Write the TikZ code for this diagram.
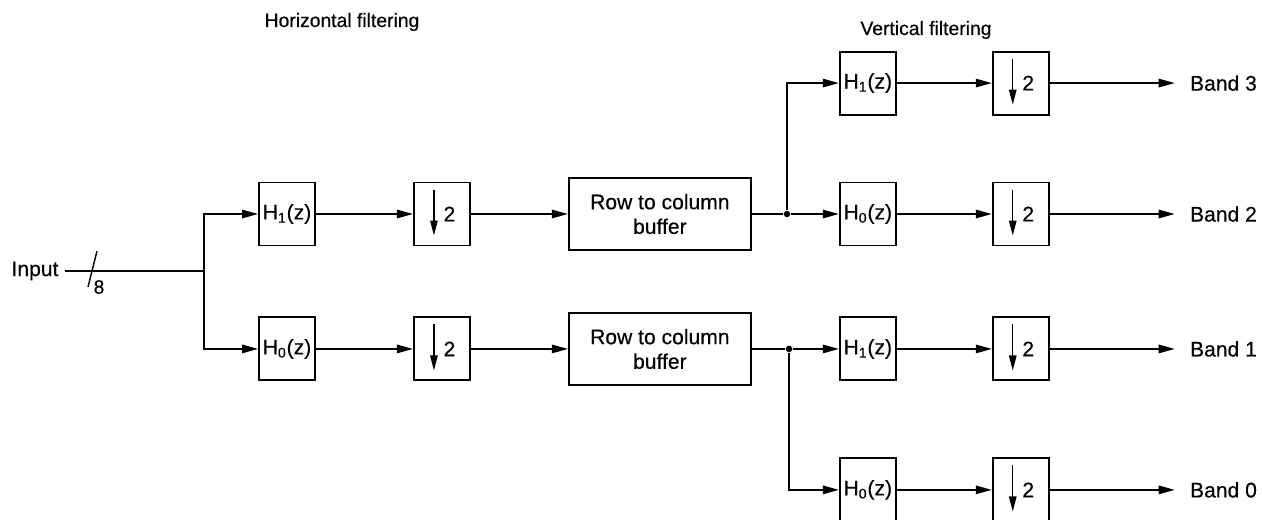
\documentclass[tikz,border=0pt]{standalone}
\usepackage{fontspec}
\setmainfont{Liberation Sans}[BoldFont={Liberation Sans}, BoldFeatures={FakeBold=0.35}]
\usetikzlibrary{arrows.meta, positioning}

\begin{document}
\begin{tikzpicture}[
  font=\fontsize{12}{14}\selectfont\bfseries,
  filt/.style={draw, line width=1.1pt, minimum width=1.12cm, minimum height=1.26cm, inner sep=0pt},
  decim/.style={filt, path picture={
      \draw[thick, -{Triangle[length=0.3cm, width=0.15cm]}]
        ([xshift=-0.16cm, yshift=-0.14cm]path picture bounding box.north) --
        ([xshift=-0.16cm, yshift=0.2cm]path picture bounding box.south);}},
  buffer/.style={draw, line width=1.1pt, align=center, minimum width=3.64cm, minimum height=1.44cm},
  band/.style={inner xsep=0.3cm},
  head/.style={font=\fontsize{11}{13}\selectfont\bfseries},
  arrow/.style={thick, -{Triangle[length=0.32cm, width=0.17cm]}},
  dot/.style={circle, fill, inner sep=0pt, minimum size=0.13cm}
]
\useasboundingbox (0,0) rectangle (25.24,10.38);

% horizontal stage
\node[filt] (hh1) at (5.74,6.10) {H\textsubscript{1}(z)};
\node[filt, below=1.40cm of hh1] (hh0) {H\textsubscript{0}(z)};
\node[decim, right=1.94cm of hh1] (hd1) {\hspace{0.3cm}2};
\node[decim, right=1.94cm of hh0] (hd0) {\hspace{0.3cm}2};
\node[buffer, right=1.94cm of hd1] (buf1) {Row to column\\buffer};
\node[buffer, right=1.94cm of hd0] (buf0) {Row to column\\buffer};

% vertical stage
\node[filt, right=1.74cm of buf1] (vh2) {H\textsubscript{0}(z)};
\node[filt, above=1.32cm of vh2] (vh3) {H\textsubscript{1}(z)};
\node[filt, right=1.74cm of buf0] (vh1) {H\textsubscript{1}(z)};
\node[filt, below=1.52cm of vh1] (vh0) {H\textsubscript{0}(z)};
\foreach \b in {0,1,2,3} {
  \node[decim, right=1.9cm of vh\b] (vd\b) {\hspace{0.3cm}2};
  \node[band, right=2.5cm of vd\b] (band\b) {Band \b};
  \draw[arrow] (vh\b) -- (vd\b);
  \draw[arrow] (vd\b) -- (band\b);
}

% input
\node (input) at (0.7,4.96) {Input};
\coordinate (split) at (4.08,4.96);
\coordinate (bus) at (1.84,4.96);
\node[font=\fontsize{11}{12}\selectfont\bfseries] (width) at (1.98,4.64) {8};
\draw[thick] (input) -- (split);
\draw[thick] ([shift={(-0.08,-0.32)}]bus) -- ([shift={(0.1,0.4)}]bus);

\draw[arrow] (split) |- (hh1);
\draw[arrow] (split) |- (hh0);
\draw[arrow] (hh1) -- (hd1);
\draw[arrow] (hh0) -- (hd0);
\draw[arrow] (hd1) -- (buf1);
\draw[arrow] (hd0) -- (buf0);

\node[dot] (j1) at (buf1.east -| 15.74,0) {};
\node[dot] (j0) at (buf0.east -| 15.78,0) {};
\draw[thick] (buf1) -- (j1);
\draw[thick] (buf0) -- (j0);
\draw[arrow] (j1) -- (vh2);
\draw[arrow] (j1) |- (vh3);
\draw[arrow] (j0) -- (vh1);
\draw[arrow] (j0) |- (vh0);

% headings
\node[head] (hhead) at (6.84,9.94) {Horizontal filtering};
\node[head] (vhead) at (18.52,9.78) {Vertical filtering};
\end{tikzpicture}
\end{document}
